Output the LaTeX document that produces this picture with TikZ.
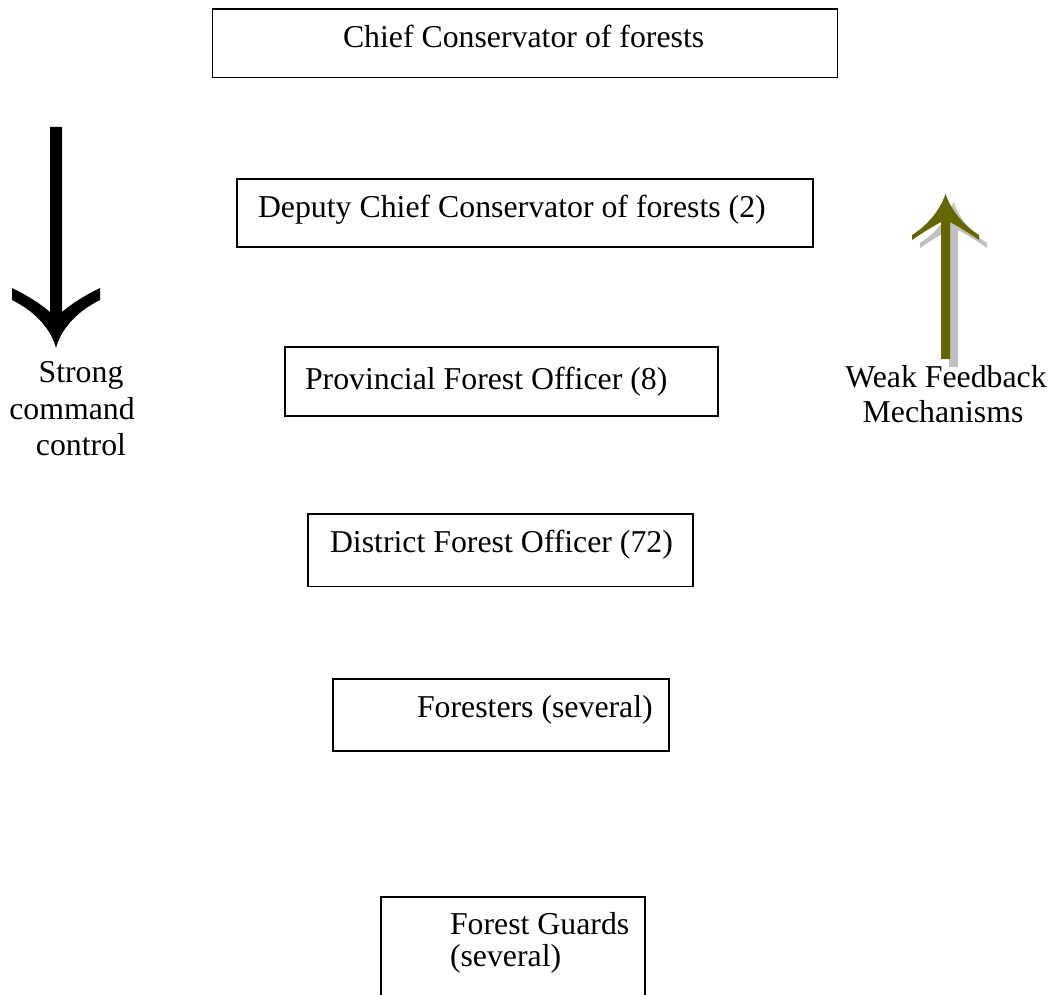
\documentclass[tikz,border=0pt]{standalone}
\usepackage{fontspec}
\setmainfont{Liberation Serif}
\definecolor{olivearrow}{RGB}{102,102,0}
\definecolor{shadowgray}{RGB}{192,192,192}
\begin{document}
\begin{tikzpicture}[x=1pt,y=-1pt,
  every node/.style={font=\fontsize{31.8pt}{36pt}\selectfont, inner sep=0pt, outer sep=0pt},
  orgbox/.style={draw=black, line width=1.6pt, anchor=north west, fill=none},
  boxtext/.style={anchor=base west},
  sidetext/.style={anchor=base}]
\useasboundingbox (0,0) rectangle (1058,995);
\clip (0,0) rectangle (1058,995);
\fill[white] (0,0) rectangle (1058,995);

% boxes
\node[orgbox, minimum width=625pt, minimum height=68.5pt] (b1) at (212.6,9) {};
\node[orgbox, minimum width=576pt, minimum height=68pt] (b2) at (237,179) {};
\node[orgbox, minimum width=432.7pt, minimum height=69pt] (b3) at (285,347) {};
\node[orgbox, minimum width=385pt, minimum height=72.5pt] (b4) at (308,514) {};
\node[orgbox, minimum width=336pt, minimum height=72pt] (b5) at (333,679) {};
\node[orgbox, minimum width=264pt, minimum height=130pt] (b6) at (381,897) {};

% box texts
\node[boxtext] (t1) at (343,48) {Chief Conservator of forests};
\node[boxtext] (t2) at (258,218) {Deputy Chief Conservator of forests (2)};
\node[boxtext] (t3) at (305,389) {Provincial Forest Officer (8)};
\node[boxtext] (t4) at (330,552) {District Forest Officer (72)};
\node[boxtext] (t5) at (417,717) {Foresters (several)};
\node[boxtext] (t6a) at (450,934) {Forest Guards};
\node[boxtext] (t6b) at (450,966) {(several)};

% strong command arrow (down)
\fill[black] (50,127) -- (62,127) -- (62,312)
  .. controls (75,301) and (88,294) .. (100,288) -- (100,300)
  .. controls (80,310) and (62,326) .. (56,348)
  .. controls (50,326) and (32,310) .. (12,300) -- (12,288)
  .. controls (24,294) and (37,301) .. (50,312) -- cycle;

% weak feedback arrow (up) with shadow
\begin{scope}[shift={(8,8)}]
\fill[shadowgray] (941,359) -- (941,222)
  .. controls (932,227) and (922,233) .. (912,240) -- (912,235)
  .. controls (928,225) and (940,210) .. (945.5,194)
  .. controls (951,210) and (963,225) .. (979,235) -- (979,240)
  .. controls (969,233) and (959,227) .. (950,222) -- (950,359) -- cycle;
\end{scope}
\fill[olivearrow] (941,359) -- (941,222)
  .. controls (932,227) and (922,233) .. (912,240) -- (912,235)
  .. controls (928,225) and (940,210) .. (945.5,194)
  .. controls (951,210) and (963,225) .. (979,235) -- (979,240)
  .. controls (969,233) and (959,227) .. (950,222) -- (950,359) -- cycle;

% side labels
\node[sidetext] (s1) at (81,382) {Strong};
\node[sidetext] (s2) at (72,419) {command};
\node[sidetext] (s3) at (81,455) {control};
\node[sidetext] (w1) at (946,387) {Weak Feedback};
\node[sidetext] (w2) at (943,422) {Mechanisms};
\end{tikzpicture}
\end{document}
